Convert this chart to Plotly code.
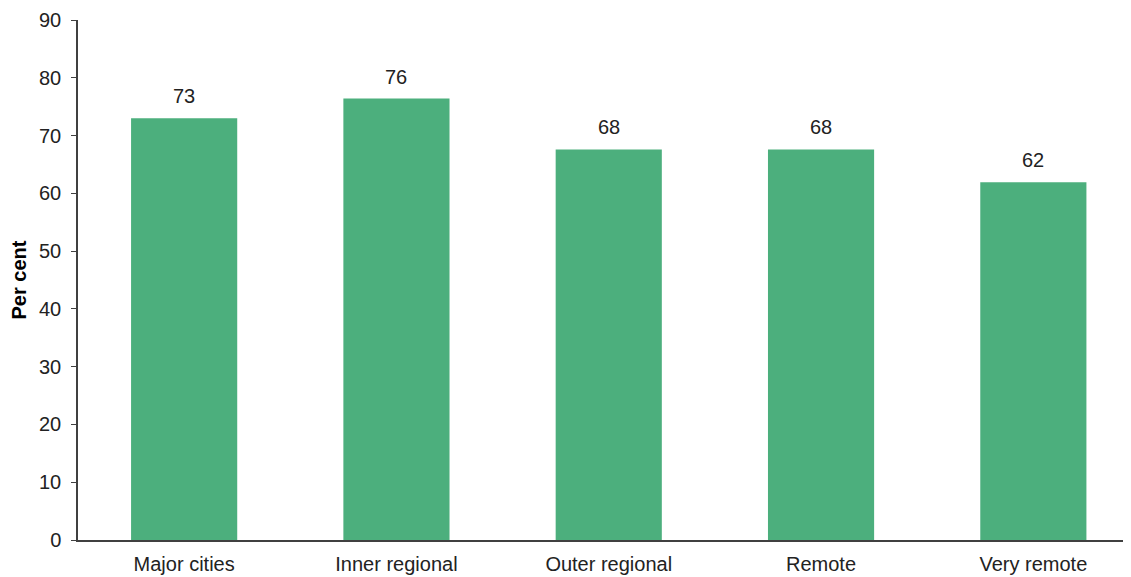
import plotly.graph_objects as go

categories = ["Major cities", "Inner regional", "Outer regional", "Remote", "Very remote"]
values = [73.0, 76.4, 67.6, 67.6, 61.9]
labels = ["73", "76", "68", "68", "62"]

bar_color = "#4CAF7D"
axis_color = "#404040"
text_color = "#222222"
font_family = "Liberation Sans, Arial, sans-serif"

fig = go.Figure()
fig.add_trace(go.Bar(
    x=list(range(len(categories))),
    y=values,
    width=0.5,
    marker=dict(color=bar_color, line=dict(width=0)),
    hoverinfo="skip",
))

for i, (v, t) in enumerate(zip(values, labels)):
    fig.add_annotation(x=i, y=v, text=t, showarrow=False, yanchor="bottom",
                       yshift=9, font=dict(size=20, color=text_color, family=font_family))

fig.update_layout(
    width=1123, height=569,
    margin=dict(l=70, r=0, t=12, b=37, autoexpand=False),
    plot_bgcolor="white", paper_bgcolor="white",
    showlegend=False,
    font=dict(family=font_family, size=20, color=text_color),
    xaxis=dict(
        tickmode="array",
        tickvals=list(range(len(categories))),
        ticktext=categories,
        range=[-0.5, 4.46],
        showline=True, linecolor=axis_color, linewidth=1.5,
        ticks="", showgrid=False, zeroline=False,
        ticklabelstandoff=5,
        tickfont=dict(size=20, color=text_color),
        automargin=False,
        fixedrange=True,
    ),
    yaxis=dict(
        range=[0, 90],
        tickvals=[0, 10, 20, 30, 40, 50, 60, 70, 80, 90],
        showline=True, linecolor=axis_color, linewidth=1.5,
        ticks="outside", ticklen=5, tickcolor=axis_color, tickwidth=1.2,
        ticklabelstandoff=6,
        showgrid=False, zeroline=False,
        tickfont=dict(size=20, color=text_color),
        title=dict(text="<b>Per cent</b>", font=dict(size=20, color="#000000"), standoff=8),
        automargin=False,
        fixedrange=True,
    ),
)

fig.write_html("out.html")
